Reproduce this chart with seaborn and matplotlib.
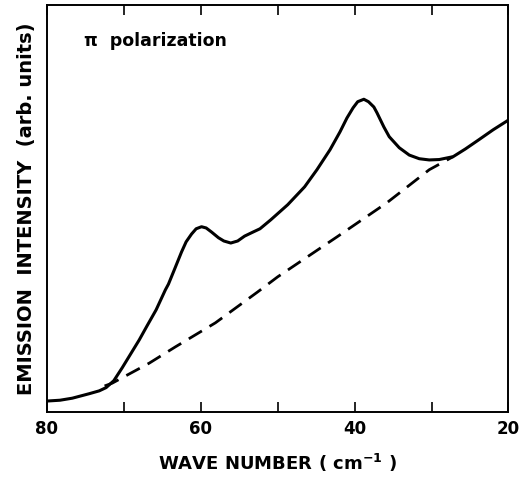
import numpy as np
import pandas as pd
import matplotlib as mpl
import matplotlib.pyplot as plt
import seaborn as sns
from matplotlib.ticker import FixedLocator

# emission spectrum, pi polarization
wave_solid = [80.0, 78.3, 76.7, 74.5, 73.2, 72.3, 71.3, 70.2, 69.1, 68.0, 67.0,
              65.8, 64.6, 64.2, 63.4, 62.5, 61.9, 61.2, 60.6, 59.9, 59.3, 58.6,
              57.7, 57.0, 56.1, 55.2, 54.3, 53.2, 52.3, 50.9, 48.7, 46.5, 44.9,
              43.2, 41.9, 41.0, 40.2, 39.6, 38.8, 38.2, 37.5, 37.1, 36.2, 35.5,
              34.2, 32.9, 31.6, 30.3, 29.0, 27.2, 25.6, 23.9, 22.0, 20.0]
intensity_solid = [2.7, 2.9, 3.4, 4.5, 5.2, 6.0, 7.7, 10.9, 14.3, 17.7, 21.1,
                   25.1, 30.0, 31.4, 35.1, 39.3, 41.8, 43.7, 45.0, 45.5, 45.2, 44.2,
                   42.8, 42.0, 41.5, 42.0, 43.2, 44.2, 45.0, 47.2, 50.9, 55.3, 59.5,
                   64.4, 68.8, 72.2, 74.7, 76.2, 76.8, 76.2, 74.9, 73.5, 70.0, 67.6,
                   64.9, 63.1, 62.2, 61.9, 62.0, 62.7, 64.6, 66.8, 69.3, 71.7]

# background (dashed)
wave_dashed = [72.5, 71.5, 66.7, 63.3, 58.1, 52.6, 50.0, 42.3, 35.8, 30.3, 27.2]
intensity_dashed = [6.4, 7.1, 12.0, 16.0, 21.9, 29.5, 33.2, 43.0, 51.4, 59.5, 62.7]

major_ticks = [80, 60, 40, 20]
minor_ticks = [70, 50, 30]

solid_df = pd.DataFrame({'wave': wave_solid, 'intensity': intensity_solid})
dashed_df = pd.DataFrame({'wave': wave_dashed, 'intensity': intensity_dashed})

sns.set_style('ticks')
plt.rcParams['font.family'] = ['DejaVu Sans']
plt.rcParams['text.color'] = 'black'
plt.rcParams['axes.labelcolor'] = 'black'
plt.rcParams['xtick.color'] = 'black'

fig = plt.figure(figsize=(5.21, 4.78), dpi=100)
ax = fig.add_axes([0.090, 0.138, 0.886, 0.852])

sns.lineplot(data=solid_df, x='wave', y='intensity', ax=ax, color='black',
             linewidth=2.2, sort=False)
sns.lineplot(data=dashed_df, x='wave', y='intensity', ax=ax, color='black',
             linewidth=2.0, sort=False, linestyle=(0, (5.5, 3.2)))

ax.set_xlim(80, 20)
ax.set_ylim(0, 100)
ax.set_yticks([])
ax.xaxis.set_major_locator(FixedLocator(major_ticks))
ax.xaxis.set_minor_locator(FixedLocator(minor_ticks))
ax.tick_params(axis='x', which='both', direction='in', top=True, length=7,
               width=1.2, labelsize=12, pad=6, colors='black')
for lab in ax.get_xticklabels():
    lab.set_fontweight('bold')
for sp in ax.spines.values():
    sp.set_linewidth(1.4)
    sp.set_color('black')

ax.set_xlabel('WAVE NUMBER ( cm$^{\\mathbf{-1}}$ )', fontsize=13,
              fontweight='bold', labelpad=10)
ax.set_ylabel('EMISSION  INTENSITY  (arb. units)', fontsize=14,
              fontweight='bold', labelpad=8)

ax.text(0.08, 0.912, '\u03c0  polarization', transform=ax.transAxes,
        fontsize=12.5, fontweight='bold', va='center', ha='left')

fig.savefig('out.png', dpi=100)
